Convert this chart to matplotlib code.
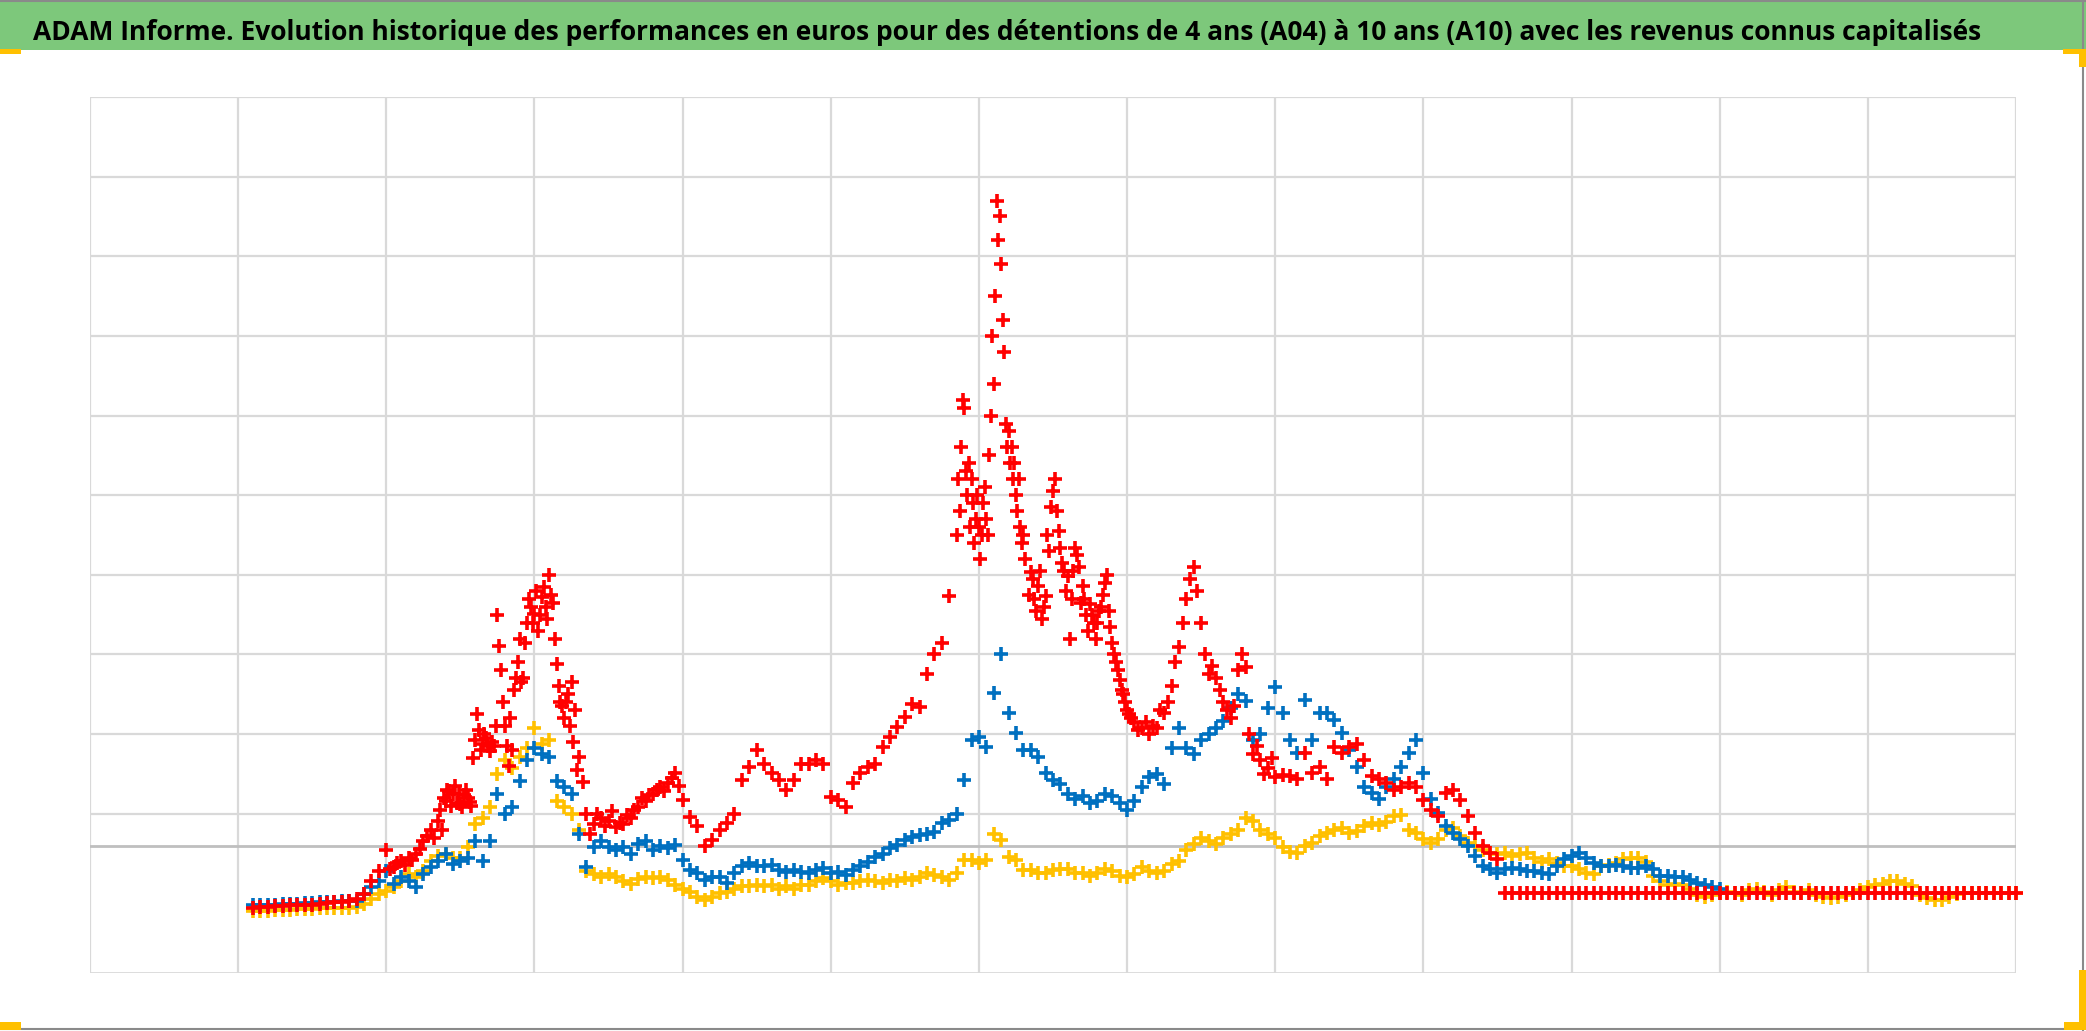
import numpy as np
import matplotlib
matplotlib.use("Agg")
import matplotlib.pyplot as plt
from matplotlib import font_manager
from matplotlib.patches import Rectangle
from matplotlib.lines import Line2D

TITLE = ("ADAM Informe. Evolution historique des performances en euros pour des "
         "détentions de 4 ans (A04) à 10 ans (A10) avec les revenus connus capitalisés")

# ---------------- data (index units, gridline every 10) ----------------
# red series, in segments (start, step)
red_a_start, red_a_step = 1.10, 0.05
red_a = [8.2, 8.3, 8.3, 8.4, 8.4, 8.5, 8.5, 8.6, 8.6, 8.7, 8.8, 8.9, 8.9, 9.1, 9.3, 9.9, 11.6, 12.8]

red_b_start, red_b_step = 2.00, 0.025
red_b = [15.5, 13.0, 13.3, 13.8, 14.1, 13.6, 14.5, 14.2, 14.9, 15.6,
         16.6, 17.2, 17.9, 17.0, 19.1, 18.0, 21.6, 22.8, 22.5, 21.4,
         21.2, 22.3, 22.0, 21.0, 29.2, 30.5, 28.7, 29.5, 27.9, 28.5,
         45.0, 38.0, 31.0, 26.0, 28.0, 37.0, 42.0, 37.0, 44.0, 46.0,
         45.1, 43.0, 47.2, 46.0, 50.0, 46.5, 38.8, 34.0, 32.0, 35.0,
         36.5, 33.0, 27.1, 24.0, 20.0, 17.5, 18.7, 20.0, 19.5, 18.4,
         19.1, 20.3, 18.3, 18.8, 18.7, 19.8, 19.5, 20.5, 20.8, 22.0,
         21.6, 22.4, 22.5, 23.0, 23.4, 22.8, 23.8, 24.5, 25.1, 23.5]

red_g_start, red_g_step = 2.3625, 0.025
red_g = [20.5, 22.0, 23.0, 21.0, 23.5, 22.5, 20.8, 23.0, 21.5, 27.0,
         32.5, 28.0, 30.0, 28.5, 29.0, 31.0, 41.0, 34.0, 28.5, 32.0,
         35.5, 39.0, 36.5, 41.5, 47.0, 44.0, 48.0, 45.0, 48.5, 44.5,
         47.5, 42.0, 36.0, 33.5, 34.0, 31.0, 29.0, 25.5]

red_c_start, red_c_step = 4.00, 0.05
red_c = [21.7, 19.6, 18.4, 15.9, 16.7, 18.0, 18.8, 20.0, 24.2, 25.9,
         28.0, 26.3, 25.1, 24.2, 23.0, 24.2, 26.3, 26.3, 26.7, 26.3,
         22.1, 21.7, 20.9, 23.8, 25.1, 25.9, 26.3, 28.4, 29.6, 30.9,
         32.2, 33.8, 33.4, 37.6, 40.0, 41.5, 47.4]

red_d_start, red_d_step = 5.85, 0.01
red_d = [55, 62, 58, 66, 72, 71, 63, 60, 64, 56,
         62, 59, 54, 57, 60, 56, 52, 55, 59, 61,
         57, 55, 65, 70, 80, 74, 85, 97, 92, 95,
         89, 82, 78, 69, 66, 68, 64, 66, 62, 64,
         60, 58, 62, 56, 54, 55]

red_e_start, red_e_step = 6.35, 0.025
red_e = [50.4, 47.0, 48.6, 44.5, 47.4, 53.0, 60.5, 58.0, 53.4, 50.5,
         49.8, 47.0, 53.4, 51.0, 48.6, 45.0, 46.3, 44.0, 43.9, 46.0,
         49.0, 45.5, 41.5, 39.0, 36.8, 35.0,
         33.0, 32.0, 31.5, 30.5, 30.8, 31.5, 30.0, 31.0, 30.8, 33.0,
         32.6, 34.0, 36.0, 39.0, 40.9, 44.0, 47.0, 49.5, 51.0, 48.0,
         44.0, 40.0, 37.5, 38.5, 37.0, 35.5, 34.0, 33.0, 32.0, 33.5,
         38.0, 40.0, 38.4, 30.0, 27.5, 28.5, 26.7, 25.0, 25.8, 27.0]

red_h_start, red_h_step = 6.3125, 0.025
red_h = [52.0, 47.5, 49.5, 45.5, 50.5, 46.0, 55.0, 58.5, 62.0, 55.5,
         51.5, 48.0, 42.0, 50.5, 52.5, 46.5, 47.0, 43.0, 45.0, 42.0,
         45.5, 47.5, 50.0, 43.5, 40.0, 38.0, 35.5, 34.0, 32.5]

red_f_start, red_f_step = 8.00, 0.05
red_f = [24.6, 24.9, 24.7, 24.3, 27.6, 25.1, 25.9, 24.3, 28.4, 27.6,
         28.4, 28.8, 26.8, 24.7, 24.3, 23.8, 23.0, 23.4, 23.8, 23.4,
         21.7, 20.5, 19.7, 22.6, 23.0, 21.7, 19.7, 17.6, 15.9, 15.1, 14.3]

red_flat_start, red_flat_step = 9.55, 0.05
red_flat = [10.0, 10.0, 10.0, 10.0, 10.0, 10.0, 10.0, 10.0, 10.0, 10.0,
            10.0, 10.0, 10.0, 10.0, 10.0, 10.0, 10.0, 10.0, 10.0, 10.0,
            10.0, 10.0, 10.0, 10.0, 10.0, 10.0, 10.0, 10.0, 10.0, 10.0,
            10.0, 10.0, 10.0, 10.0, 10.0, 10.0, 10.0, 10.0, 10.0, 10.0,
            10.0, 10.0, 10.0, 10.0, 10.0, 10.0, 10.0, 10.0, 10.0, 10.0,
            10.0, 10.0, 10.0, 10.0, 10.0, 10.0, 10.0, 10.0, 10.0, 10.0,
            10.0, 10.0, 10.0, 10.0, 10.0, 10.0, 10.0, 10.0, 10.0, 10.0]

blue_start, blue_step = 1.10, 0.05
blue = [8.5, 8.6, 8.6, 8.6, 8.7, 8.7, 8.7, 8.8, 8.8, 8.9, 8.9, 8.9, 9.0, 9.0, 9.1, 9.9, 10.8, 11.6,
        12.8, 11.2, 12.0, 11.6, 10.8, 12.4, 13.3, 14.1, 14.9, 13.7, 14.1, 14.5, 16.6, 14.1, 16.6, 22.5, 20.0, 20.8, 24.1, 26.7,
        28.3, 27.5, 27.1, 24.1, 23.3, 22.5, 17.4, 13.3, 15.8, 16.6, 15.8, 15.4, 15.8, 14.9, 16.2, 16.6, 15.4, 15.9, 15.7, 16.1,
        14.2, 12.9, 12.5, 11.7, 12.1, 12.1, 11.3, 12.5, 13.4, 13.8, 13.4, 13.4, 13.6, 12.9, 12.7, 12.9, 12.7, 12.5, 12.9, 13.2,
        12.5, 12.7, 12.3, 12.9, 13.4, 14.0, 14.6, 15.0, 15.7, 16.1, 16.7, 17.1, 17.3, 17.5, 17.7, 18.8, 19.2, 20.0, 24.2, 29.2,
        29.6, 28.4, 35.1, 40.0, 32.6, 30.1, 28.0, 28.0, 27.1, 25.1, 24.2, 23.7, 22.5, 21.9, 22.2, 21.4, 21.6, 22.5, 22.2, 21.4,
        20.5, 21.6, 23.3, 24.6, 25.0, 23.7, 28.3, 30.8, 28.3, 27.5, 29.2, 30.0, 30.8, 31.7, 33.3, 35.0, 34.2, 29.2, 30.0, 33.3,
        35.9, 32.6, 29.3, 27.6, 34.3, 29.3, 32.6, 32.6, 31.8, 30.1, 28.0, 25.9, 23.4, 22.6, 21.8, 23.4, 24.3, 25.9, 27.6, 29.3,
        25.1, 21.8, 20.1, 18.4, 17.6, 16.8, 15.9, 14.7, 13.4, 13.0, 12.6, 13.0, 13.2, 13.0, 12.8, 12.8, 12.6, 12.4, 13.4, 14.3,
        14.7, 15.1, 14.5, 13.8, 13.4, 13.4, 13.6, 13.4, 13.2, 13.2, 13.4, 13.0, 12.2, 12.2, 12.0, 12.1, 11.7, 11.3, 11.0, 10.8,
        10.6]

yellow_start, yellow_step = 1.10, 0.05
yellow = [7.8, 7.8, 7.8, 7.9, 7.9, 7.9, 8.0, 8.0, 8.0, 8.1, 8.1, 8.1, 8.2, 8.2, 8.3, 8.7, 9.3, 9.9,
          10.3, 10.8, 11.6, 12.4, 12.0, 12.8, 14.1, 14.7, 14.9, 14.5, 14.5, 15.8, 18.7, 19.5, 20.8, 25.0, 26.7, 25.8, 27.1, 28.3,
          30.8, 28.7, 29.2, 21.6, 20.8, 20.0, 17.9, 12.8, 12.4, 12.0, 12.4, 12.0, 11.6, 11.2, 11.8, 12.0, 11.9, 12.1, 11.7, 11.1,
          10.6, 10.2, 9.6, 9.2, 9.6, 10.0, 10.2, 10.6, 10.9, 10.9, 11.1, 10.9, 11.1, 10.6, 10.9, 10.6, 11.1, 11.1, 11.5, 11.9,
          11.5, 11.1, 11.3, 11.3, 11.5, 11.7, 11.5, 11.3, 11.7, 11.5, 11.9, 11.7, 12.1, 12.5, 12.3, 12.1, 11.7, 12.5, 14.2, 14.2,
          13.8, 14.2, 17.5, 16.7, 14.6, 14.2, 12.9, 12.9, 12.5, 12.5, 12.9, 13.0, 13.0, 12.5, 12.5, 12.2, 12.5, 13.0, 12.8, 12.2,
          12.0, 12.4, 13.3, 12.8, 12.6, 12.8, 13.7, 14.1, 15.4, 16.2, 17.0, 16.6, 16.2, 17.0, 17.4, 17.9, 19.5, 19.1, 17.9, 17.4,
          17.0, 15.8, 15.2, 15.1, 15.9, 16.3, 17.2, 17.6, 18.0, 18.2, 17.6, 17.8, 18.4, 18.8, 18.6, 19.0, 19.7, 19.9, 18.0, 17.6,
          16.8, 16.3, 16.8, 18.0, 18.2, 17.2, 16.3, 15.9, 15.5, 15.1, 14.9, 15.1, 14.7, 14.9, 15.1, 14.5, 14.0, 14.3, 13.8, 13.4,
          13.4, 13.0, 12.6, 12.4, 13.4, 13.6, 13.8, 14.3, 14.5, 14.5, 14.0, 12.2, 11.5, 11.1, 11.2, 11.0, 10.6, 9.8, 9.6, 9.8,
          10.0, 10.2, 10.0, 9.8, 10.4, 10.6, 10.2, 9.8, 10.4, 10.8, 10.2, 10.0, 10.4, 9.8, 9.5, 9.4, 9.6, 9.8, 10.1, 10.4,
          10.8, 11.0, 11.2, 11.5, 11.5, 11.2, 10.9, 9.8, 9.4, 9.2, 9.2, 9.6, 9.9, 10.0, 10.1, 10.0, 10.0, 10.1, 10.0, 10.0,
          10.0]

AXIS_VALUE = 16.0          # horizontal axis crossing
Y_MIN, Y_MAX, Y_STEP = 0, 110, 10
X_MIN, X_MAX = 0, 13

RED = "#FF0000"
BLUE = "#0070C0"
YELLOW = "#FFC000"


def seg(start, step, vals):
    v = np.asarray(vals, dtype=float)
    return start + step * np.arange(len(v)), v


W, H = 2086, 1031
fig = plt.figure(figsize=(W / 100, H / 100), dpi=100)
fig.patch.set_facecolor("white")

# title band
fig.patches.append(Rectangle((0, 1 - 50 / H), 1, 50 / H, transform=fig.transFigure,
                             facecolor="#7DC87B", edgecolor="none", zorder=0))
fig.lines.append(Line2D([0, 1], [1 - 1 / H, 1 - 1 / H], transform=fig.transFigure,
                        color="#8A8A8A", lw=1.5))
fig.lines.append(Line2D([0, 1], [2 / H, 2 / H], transform=fig.transFigure,
                        color="#8A8A8A", lw=1.5))
fig.lines.append(Line2D([1 - 3 / W, 1 - 3 / W], [0, 1], transform=fig.transFigure,
                        color="#8A8A8A", lw=1.5))

# orange selection handles
def px_rect(x0, y0, x1, y1):
    fig.patches.append(Rectangle((x0 / W, 1 - y1 / H), (x1 - x0) / W, (y1 - y0) / H,
                                 transform=fig.transFigure, facecolor="#FFC000",
                                 edgecolor="none", zorder=5))

px_rect(0, 49, 21, 54)
px_rect(2063, 49, 2086, 54)
px_rect(2079, 49, 2086, 67)
px_rect(0, 1022, 21, 1030)
px_rect(2064, 1022, 2086, 1030)
px_rect(2079, 970, 2086, 1030)

# title text with narrow font if available
names = {f.name for f in font_manager.fontManager.ttflist}
family = "DejaVu Sans"
for cand in ["Liberation Sans Narrow", "Open Sans", "Roboto", "Lato"]:
    if cand in names:
        family = cand
        break
t = fig.text(33 / W, 1 - 40 / H, TITLE, fontsize=24, fontweight="bold",
             family=family, color="black", ha="left", va="baseline")
fig.canvas.draw()
wpx = t.get_window_extent(fig.canvas.get_renderer()).width
t.set_fontsize(24 * 1956 / wpx)

# axes
L, R, T, B = 90, 2016, 97, 973
ax = fig.add_axes([L / W, 1 - B / H, (R - L) / W, (B - T) / H])
ax.set_xlim(X_MIN, X_MAX)
ax.set_ylim(Y_MIN, Y_MAX)
for s in ax.spines.values():
    s.set_visible(False)
ax.set_xticks([])
ax.set_yticks([])

grid_c = "#D9D9D9"
for xv in range(X_MIN, X_MAX + 1):
    ax.axvline(xv, color=grid_c, lw=1.6, zorder=1)
for yv in range(20, Y_MAX + 1, Y_STEP):
    ax.axhline(yv, color=grid_c, lw=1.6, zorder=1)
ax.axhline(Y_MIN, color=grid_c, lw=2.0, zorder=1)
ax.axhline(AXIS_VALUE, color="#BFBFBF", lw=2.0, zorder=1)

mk = dict(marker="+", linestyle="none", markersize=10, markeredgewidth=2.6,
          clip_on=False)

xy, yy = seg(yellow_start, yellow_step, yellow)
ax.plot(xy, yy, color=YELLOW, zorder=3, **mk)
xb, yb = seg(blue_start, blue_step, blue)
ax.plot(xb, yb, color=BLUE, zorder=4, **mk)
for st, sp, vals in [(red_a_start, red_a_step, red_a), (red_b_start, red_b_step, red_b),
                     (red_g_start, red_g_step, red_g),
                     (red_c_start, red_c_step, red_c), (red_d_start, red_d_step, red_d),
                     (red_e_start, red_e_step, red_e), (red_h_start, red_h_step, red_h),
                     (red_f_start, red_f_step, red_f),
                     (red_flat_start, red_flat_step, red_flat)]:
    xr, yr = seg(st, sp, vals)
    ax.plot(xr, yr, color=RED, zorder=5, **mk)

fig.savefig("out.png", dpi=100, facecolor="white")
